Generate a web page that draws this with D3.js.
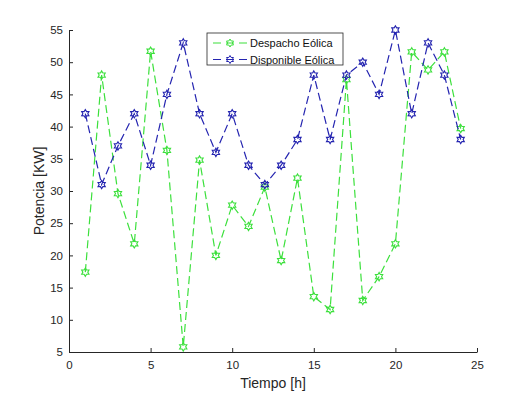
<!DOCTYPE html>
<html>
<head>
<meta charset="utf-8">
<script src="https://cdn.jsdelivr.net/npm/d3@7"></script>
<style>
  body { margin: 0; background: #fff; }
  text { font-family: 'Liberation Sans', Arial, Helvetica, sans-serif; }
</style>
</head>
<body>
<div id="chart"></div>
<script>
// hours
var horas = d3.range(1, 25);
// values
var despacho = [17.4, 48, 29.6, 21.8, 51.7, 36.3, 5.8, 34.8, 20, 27.8, 24.5, 30.6,
                19.2, 32, 13.6, 11.6, 47.3, 13, 16.7, 21.8, 51.6, 48.8, 51.6, 39.7];
var disponible = [42, 31, 37, 42, 34, 45, 53, 42, 36, 42, 34, 31,
                  34, 38, 48, 38, 48, 50, 45, 55, 42, 53, 48, 38];
var xTicks = [0, 5, 10, 15, 20, 25];
var yTicks = [5, 10, 15, 20, 25, 30, 35, 40, 45, 50, 55];
var seriesNames = ['Despacho Eólica', 'Disponible Eólica'];
var colors = ['#3ce03c', '#2424b0'];

var W = 528, H = 396;
var margin = {top: 30, right: 51, bottom: 44, left: 69};
var width = W - margin.left - margin.right;
var height = H - margin.top - margin.bottom;

var svg = d3.select('#chart').append('svg')
  .attr('width', W)
  .attr('height', H)
  .append('g')
  .attr('transform', 'translate(' + margin.left + ',' + margin.top + ')');

var x = d3.scaleLinear().domain([0, 25]).range([0, width]);
var y = d3.scaleLinear().domain([5, 55]).range([height, 0]);

// hexagram marker path
function hexagram(r) {
  var pts = [];
  for (var i = 0; i < 12; i++) {
    var a = Math.PI / 2 + i * Math.PI / 6;
    var rr = (i % 2 === 0) ? r : r * 0.58;
    pts.push([rr * Math.cos(a), -rr * Math.sin(a)]);
  }
  return 'M' + pts.map(function(p) { return p[0].toFixed(2) + ',' + p[1].toFixed(2); }).join('L') + 'Z';
}

// axes
var xAxis = d3.axisBottom(x).tickValues(xTicks).tickSizeInner(-4).tickSizeOuter(0).tickPadding(9);
var yAxis = d3.axisLeft(y).tickValues(yTicks).tickSizeInner(-4).tickSizeOuter(0).tickPadding(6);

var gx = svg.append('g')
  .attr('transform', 'translate(0,' + height + ')')
  .call(xAxis);
var gy = svg.append('g').call(yAxis);

[gx, gy].forEach(function(g) {
  g.select('.domain').attr('stroke', '#262626');
  g.selectAll('.tick line').attr('stroke', '#262626');
  g.selectAll('.tick text').attr('fill', '#262626').style('font-size', '11.5px');
});

// series
var data = [despacho, disponible];
var line = d3.line()
  .x(function(d, i) { return x(horas[i]); })
  .y(function(d) { return y(d); });

data.forEach(function(vals, k) {
  svg.append('path')
    .attr('d', line(vals))
    .attr('fill', 'none')
    .attr('stroke', colors[k])
    .attr('stroke-width', 1.2)
    .attr('stroke-dasharray', '8,4');

  svg.selectAll('.m' + k)
    .data(vals)
    .enter().append('path')
    .attr('class', 'm' + k)
    .attr('transform', function(d, i) { return 'translate(' + x(horas[i]) + ',' + y(d) + ')'; })
    .attr('d', hexagram(4.2))
    .attr('fill', 'none')
    .attr('stroke', colors[k])
    .attr('stroke-width', 1.1);
});

// axis labels
svg.append('text')
  .attr('x', width / 2)
  .attr('y', height + 36)
  .attr('text-anchor', 'middle')
  .attr('fill', '#262626')
  .style('font-size', '14px')
  .text('Tiempo [h]');

svg.append('text')
  .attr('transform', 'translate(' + (-25) + ',' + (height / 2) + ') rotate(-90)')
  .attr('text-anchor', 'middle')
  .attr('fill', '#262626')
  .style('font-size', '14px')
  .text('Potencia [KW]');

// legend
var lg = svg.append('g').attr('transform', 'translate(' + (207 - margin.left) + ',' + (33 - margin.top) + ')');
lg.append('rect')
  .attr('width', 136)
  .attr('height', 32)
  .attr('fill', '#fff')
  .attr('stroke', '#262626')
  .attr('stroke-width', 0.8);

seriesNames.forEach(function(name, k) {
  var yy = 10 + k * 16.5;
  lg.append('line')
    .attr('x1', 6).attr('x2', 41)
    .attr('y1', yy).attr('y2', yy)
    .attr('stroke', colors[k])
    .attr('stroke-width', 1.2)
    .attr('stroke-dasharray', '8,5');
  lg.append('path')
    .attr('transform', 'translate(23,' + yy + ')')
    .attr('d', hexagram(4))
    .attr('fill', 'none')
    .attr('stroke', colors[k]);
  lg.append('text')
    .attr('x', 43)
    .attr('y', yy + 4)
    .attr('fill', '#111')
    .style('font-size', '11px')
    .text(name);
});
</script>
</body>
</html>
